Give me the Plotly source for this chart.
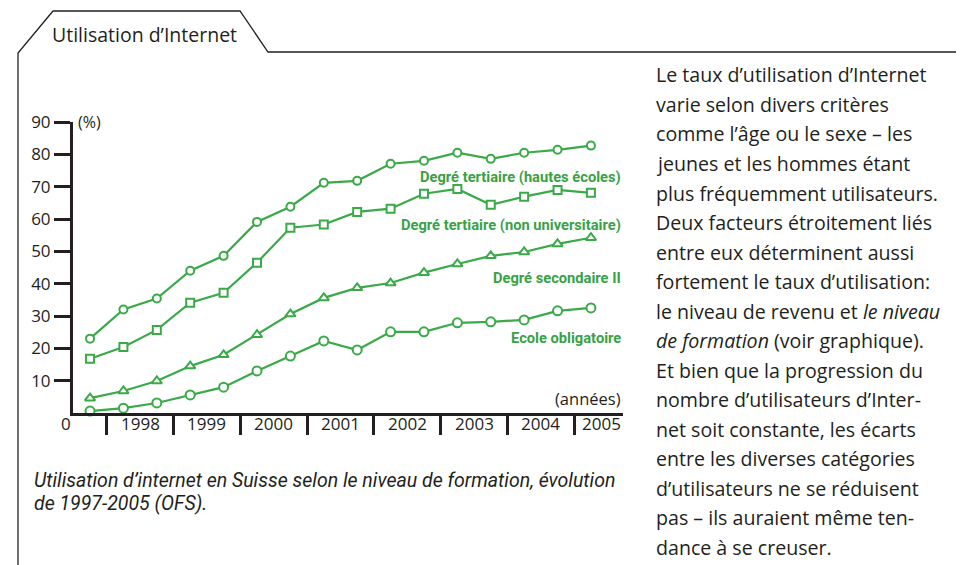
import plotly.graph_objects as go

# ---------------- data ----------------
years  = [1997, 1998, 1998, 1999, 1999, 2000, 2000, 2001, 2001, 2002, 2002, 2003, 2003, 2004, 2004, 2005]
halves = [2, 1, 2, 1, 2, 1, 2, 1, 2, 1, 2, 1, 2, 1, 2, 1]

hautes_ecoles   = [23.0, 32.0, 35.4, 44.0, 48.6, 59.1, 63.8, 71.2, 71.8, 77.1, 78.0, 80.5, 78.6, 80.5, 81.4, 82.7]
non_univ        = [16.8, 20.4, 25.7, 34.1, 37.2, 46.5, 57.3, 58.3, 62.2, 63.2, 67.8, 69.3, 64.4, 66.9, 69.0, 68.1]
secondaire_ii   = [4.6, 6.8, 9.9, 14.5, 18.0, 24.2, 30.6, 35.6, 38.7, 40.2, 43.4, 46.1, 48.6, 49.8, 52.3, 54.2]
obligatoire     = [0.6, 1.5, 3.1, 5.6, 8.0, 13.0, 17.6, 22.3, 19.5, 25.1, 25.1, 27.9, 28.2, 28.8, 31.6, 32.5]

series_names  = ["Degré tertiaire (hautes écoles)", "Degré tertiaire (non universitaire)",
                 "Degré secondaire II", "Ecole obligatoire"]
series_label_y = [73.0, 58.1, 41.8, 23.2]

year_ticks  = [1998, 1999, 2000, 2001, 2002, 2003, 2004, 2005]
year_labels = ["1998", "1999", "2000", "2001", "2002", "2003", "2004", "2005"]
y_ticks = [10, 20, 30, 40, 50, 60, 70, 80, 90]

title_text = "Utilisation d’Internet"
caption_lines = ["Utilisation d’internet en Suisse selon le niveau de formation, évolution",
                 "de 1997-2005 (OFS)."]
para_lines = [
    "Le taux d’utilisation d’Internet",
    "varie selon divers critères",
    "comme l’âge ou le sexe – les",
    "jeunes et les hommes étant",
    "plus fréquemment utilisateurs.",
    "Deux facteurs étroitement liés",
    "entre eux déterminent aussi",
    "fortement le taux d’utilisation:",
    "le niveau de revenu et <i>le niveau</i>",
    "<i>de formation</i> (voir graphique).",
    "Et bien que la progression du",
    "nombre d’utilisateurs d’Inter-",
    "net soit constante, les écarts",
    "entre les diverses catégories",
    "d’utilisateurs ne se réduisent",
    "pas – ils auraient même ten-",
    "dance à se creuser.",
]

# ---------------- style ----------------
PAGE_W, PAGE_H = 964, 565
OFF = 8                                   # default body margin of the html page
L, R, T, B = 73, 623, 122, 413            # plot area in page px
GREEN = "#3aaa48"
LABEL_GREEN = "#39a146"
DARK = "#231f20"
FONT = "'Open Sans', Lato, sans-serif"
BOLDFONT = "Roboto, 'Open Sans', sans-serif"
CAPFONT = "Roboto, 'Open Sans', sans-serif"

x = [y + (0.25 if h == 1 else 0.75) for y, h in zip(years, halves)]

def px(xp):
    return (xp - L) / (R - L)

def py(yp):
    return (B - yp) / (B - T)

fig = go.Figure()
symbols = ["circle", "square", "triangle-up", "circle"]
sizes = [8, 8, 9, 9]
for vals, sym, sz, name in zip([hautes_ecoles, non_univ, secondaire_ii, obligatoire], symbols, sizes, series_names):
    fig.add_trace(go.Scatter(
        x=x, y=vals, mode="lines+markers", name=name, cliponaxis=False,
        line=dict(color=GREEN, width=2.2),
        marker=dict(symbol=sym, size=sz, color="white", line=dict(color=GREEN, width=2)),
        showlegend=False, hoverinfo="skip"))

annotations = []
for name, ly in zip(series_names, series_label_y):
    annotations.append(dict(x=1, xref="paper", y=ly, yref="y", text=name, showarrow=False,
                            xanchor="right", yanchor="middle",
                            font=dict(family=BOLDFONT, size=14.7, color=LABEL_GREEN, weight="bold")))

# year labels centred between ticks
for yt, lab in zip(year_ticks, year_labels):
    if yt == year_ticks[-1]:
        annotations.append(dict(x=1, xref="paper", y=0, yref="y", text=lab, showarrow=False,
                                xanchor="right", yanchor="middle", yshift=-10,
                                font=dict(family=FONT, size=17, color=DARK)))
    else:
        annotations.append(dict(x=yt + 0.5, xref="x", y=0, yref="y", text=lab, showarrow=False,
                                xanchor="center", yanchor="middle", yshift=-10,
                                font=dict(family=FONT, size=17, color=DARK)))

annotations += [
    dict(x=0, xref="paper", y=0, yref="y", text="0", showarrow=False, xanchor="right",
         yanchor="middle", xshift=0, yshift=-10, font=dict(family=FONT, size=17, color=DARK)),
    dict(x=0, xref="paper", y=90, yref="y", text="(%)", showarrow=False, xanchor="left",
         yanchor="middle", xshift=3, font=dict(family=FONT, size=16, color=DARK)),
    dict(x=1, xref="paper", y=0, yref="y", text="(années)", showarrow=False, xanchor="right",
         yanchor="bottom", yshift=1, font=dict(family=FONT, size=16.5, color=DARK)),
    dict(x=px(50), xref="paper", y=py(35), yref="paper", text=title_text, showarrow=False,
         xanchor="left", yanchor="middle", font=dict(family=FONT, size=19.5, color=DARK)),
]
for i, line in enumerate(caption_lines):
    annotations.append(dict(x=px(32), xref="paper", y=py(480 + 23 * i), yref="paper", text=line,
                            showarrow=False, xanchor="left", yanchor="middle",
                            font=dict(family=CAPFONT, size=19.5, color=DARK, style="italic")))
for i, line in enumerate(para_lines):
    annotations.append(dict(x=px(654), xref="paper", y=py(75 + 29.5 * i), yref="paper", text=line,
                            showarrow=False, xanchor="left", yanchor="middle",
                            font=dict(family=FONT, size=19.6, color=DARK)))

# frame / tab outline
pts = [(18, 570), (18, 53), (53, 11), (240, 11), (268, 52), (970, 52)]
path = "M " + " L ".join(f"{px(a):.5f},{py(b):.5f}" for a, b in pts)
shapes = [dict(type="path", xref="paper", yref="paper", path=path,
               line=dict(color=DARK, width=1.3), layer="above")]

fig.update_layout(
    width=PAGE_W - OFF, height=PAGE_H - OFF,
    margin=dict(l=L - OFF, r=PAGE_W - R, t=T - OFF, b=PAGE_H - B, pad=0),
    paper_bgcolor="white", plot_bgcolor="white",
    annotations=annotations, shapes=shapes,
    xaxis=dict(range=[1997.495, 2005.73], showgrid=False, zeroline=False, showline=True,
               linecolor=DARK, linewidth=3, ticks="outside", ticklen=19, tickwidth=3,
               tickcolor=DARK, tickvals=year_ticks, ticktext=[""] * len(year_ticks),
               fixedrange=True),
    yaxis=dict(range=[0, 90], showgrid=False, zeroline=False, showline=True,
               linecolor=DARK, linewidth=3, ticks="outside", ticklen=16, tickwidth=3,
               tickcolor=DARK, tickvals=y_ticks, ticktext=[str(v) for v in y_ticks],
               tickfont=dict(family=FONT, size=17, color=DARK), fixedrange=True),
)

fig.write_html("out.html")
